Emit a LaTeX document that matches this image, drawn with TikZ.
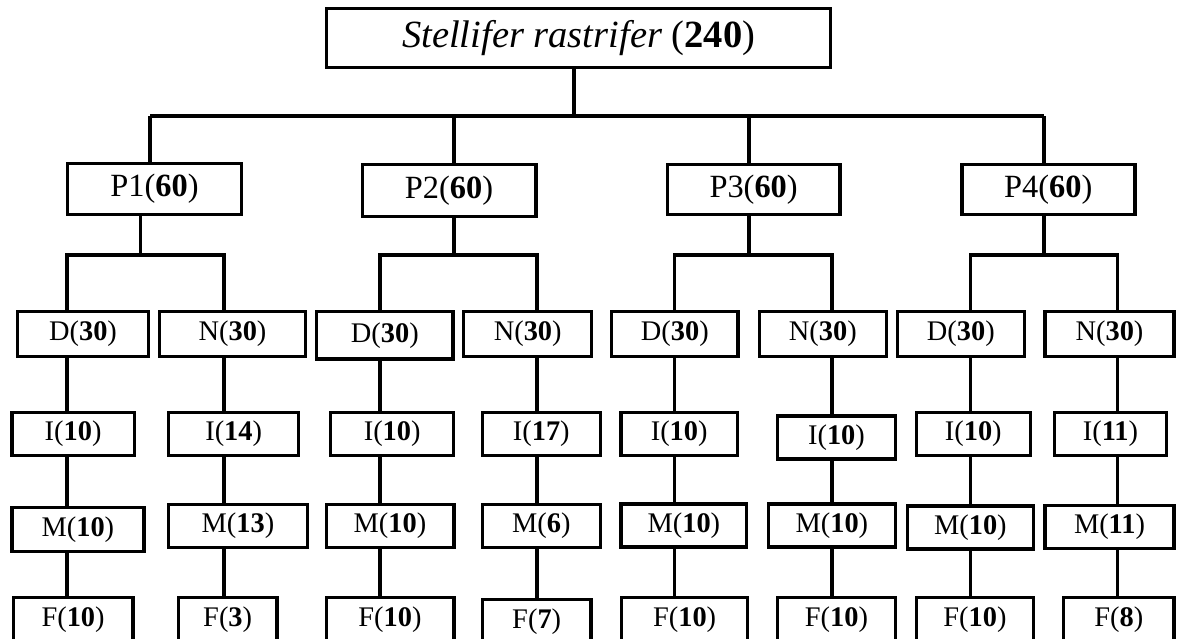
\documentclass[tikz,border=0pt]{standalone}
\usepackage{fontspec}
\setmainfont{Liberation Serif}
\begin{document}
\begin{tikzpicture}[x=0.5pt,y=-0.5pt,line width=1.7pt,
  bx/.style={draw,line width=1.7pt,inner sep=0pt,align=center},
  sm/.style={bx,font=\fontsize{14.2}{16}\selectfont},
  pp/.style={bx,font=\fontsize{16.2}{18}\selectfont},
  ln/.style={line width=1.7pt}]
\clip (0,0) rectangle (1179,638);
\fill[white] (0,0) rectangle (1179,638);
% top
\node[bx,font=\fontsize{19.25}{22}\selectfont,minimum width=252pt,minimum height=29.3pt] (top) at (578.7,38) {\textit{Stellifer rastrifer} (\textbf{240})};
% P row
\node[pp,minimum width=86.8pt,minimum height=25.3pt] (P1) at (154.5,189) {P1(\textbf{60})};
\node[pp,minimum width=86.8pt,minimum height=25.8pt] (P2) at (449,190.5) {P2(\textbf{60})};
\node[pp,minimum width=86.3pt,minimum height=24.8pt] (P3) at (753.6,189.5) {P3(\textbf{60})};
\node[pp,minimum width=86.5pt,minimum height=24.8pt] (P4) at (1048.3,189.5) {P4(\textbf{60})};
% D/N row
\node[sm,minimum width=65.3pt,minimum height=22.3pt] (D1) at (83,334) {D(\textbf{30})};
\node[sm,minimum width=72.8pt,minimum height=22.3pt] (N1) at (232.5,334) {N(\textbf{30})};
\node[sm,minimum width=68.1pt,minimum height=23.6pt] (D2) at (384.8,335.3) {D(\textbf{30})};
\node[sm,minimum width=64pt,minimum height=22.3pt] (N2) at (527.7,334) {N(\textbf{30})};
\node[sm,minimum width=63.3pt,minimum height=22.3pt] (D3) at (674.8,334) {D(\textbf{30})};
\node[sm,minimum width=63.4pt,minimum height=22.3pt] (N3) at (822.8,334) {N(\textbf{30})};
\node[sm,minimum width=63.5pt,minimum height=22.3pt] (D4) at (960.8,334) {D(\textbf{30})};
\node[sm,minimum width=64.5pt,minimum height=22.3pt] (N4) at (1109.5,334) {N(\textbf{30})};
% I row
\node[sm,minimum width=61.1pt,minimum height=21.3pt] (I1) at (73.1,434) {I(\textbf{10})};
\node[sm,minimum width=65pt,minimum height=21.3pt] (I2) at (233.7,434) {I(\textbf{14})};
\node[sm,minimum width=61.5pt,minimum height=21.3pt] (I3) at (392.2,434) {I(\textbf{10})};
\node[sm,minimum width=58.9pt,minimum height=21.3pt] (I4) at (541.3,434) {I(\textbf{17})};
\node[sm,minimum width=58.2pt,minimum height=21.3pt] (I5) at (679.2,434) {I(\textbf{10})};
\node[sm,minimum width=58.8pt,minimum height=21.6pt] (I6) at (836.5,437.4) {I(\textbf{10})};
\node[sm,minimum width=57pt,minimum height=21.3pt] (I7) at (973.3,434) {I(\textbf{10})};
\node[sm,minimum width=56.1pt,minimum height=21.3pt] (I8) at (1110.5,434) {I(\textbf{11})};
% M row
\node[sm,minimum width=65.9pt,minimum height=22pt] (M1) at (77.9,529.7) {M(\textbf{10})};
\node[sm,minimum width=69.3pt,minimum height=21.6pt] (M2) at (238,526) {M(\textbf{13})};
\node[sm,minimum width=63.8pt,minimum height=21.6pt] (M3) at (390,526) {M(\textbf{10})};
\node[sm,minimum width=58.9pt,minimum height=21.6pt] (M4) at (541.3,526) {M(\textbf{6})};
\node[sm,minimum width=62.8pt,minimum height=21.5pt] (M5) at (683.9,525.5) {M(\textbf{10})};
\node[sm,minimum width=63.4pt,minimum height=21.5pt] (M6) at (831.9,525.5) {M(\textbf{10})};
\node[sm,minimum width=63.2pt,minimum height=21.6pt] (M7) at (970.4,527.4) {M(\textbf{10})};
\node[sm,minimum width=64.5pt,minimum height=21.5pt] (M8) at (1109.5,526.7) {M(\textbf{11})};
% F row
\node[sm,minimum width=59.9pt,minimum height=22.3pt] (F1) at (73.1,619.5) {F(\textbf{10})};
\node[sm,minimum width=49.2pt,minimum height=22.3pt] (F2) at (227.7,619.5) {F(\textbf{3})};
\node[sm,minimum width=63.8pt,minimum height=22.3pt] (F3) at (390,619.5) {F(\textbf{10})};
\node[sm,minimum width=54.3pt,minimum height=22.3pt] (F4) at (536.7,621.7) {F(\textbf{7})};
\node[sm,minimum width=62.9pt,minimum height=22.3pt] (F5) at (684.6,619.5) {F(\textbf{10})};
\node[sm,minimum width=58.8pt,minimum height=22.3pt] (F6) at (836.5,619.5) {F(\textbf{10})};
\node[sm,minimum width=58.7pt,minimum height=22.3pt] (F7) at (975,619.5) {F(\textbf{10})};
\node[sm,minimum width=55.2pt,minimum height=22.3pt] (F8) at (1118.9,619.5) {F(\textbf{8})};
% top connectors
\coordinate (s0) at (574,116);
\coordinate (b1) at (150,116);
\coordinate (b2) at (454,116);
\coordinate (b3) at (749,116);
\coordinate (b4) at (1044,116);
\draw[ln] (top.south -| s0) -- (s0);
\draw[ln] (b1) -- (b4);
\foreach \k in {1,2,3,4} {\draw[ln] (b\k) -- (P\k.north -| b\k);}
% P to D/N
\coordinate (p1) at (140.5,255);
\coordinate (p2) at (454,255);
\coordinate (p3) at (749,255);
\coordinate (p4) at (1044,255);
\coordinate (c1) at (67,255);
\coordinate (c2) at (224,255);
\coordinate (c3) at (380,255);
\coordinate (c4) at (537,255);
\coordinate (c5) at (674.7,255);
\coordinate (c6) at (832,255);
\coordinate (c7) at (970.4,255);
\coordinate (c8) at (1117.5,255);
\foreach \k in {1,2,3,4} {\draw[ln] (P\k.south -| p\k) -- (p\k);}
\draw[ln] (D1.north -| c1) -- (c1) -- (c2) -- (N1.north -| c2);
\draw[ln] (D2.north -| c3) -- (c3) -- (c4) -- (N2.north -| c4);
\draw[ln] (D3.north -| c5) -- (c5) -- (c6) -- (N3.north -| c6);
\draw[ln] (D4.north -| c7) -- (c7) -- (c8) -- (N4.north -| c8);
% column chains
\foreach \d/\n/\k in {D1/1/1,N1/2/2,D2/3/3,N2/4/4,D3/5/5,N3/6/6,D4/7/7,N4/8/8} {
  \draw[ln] (\d.south -| c\k) -- (I\n.north -| c\k);
  \draw[ln] (I\n.south -| c\k) -- (M\n.north -| c\k);
  \draw[ln] (M\n.south -| c\k) -- (F\n.north -| c\k);
}
\end{tikzpicture}
\end{document}
